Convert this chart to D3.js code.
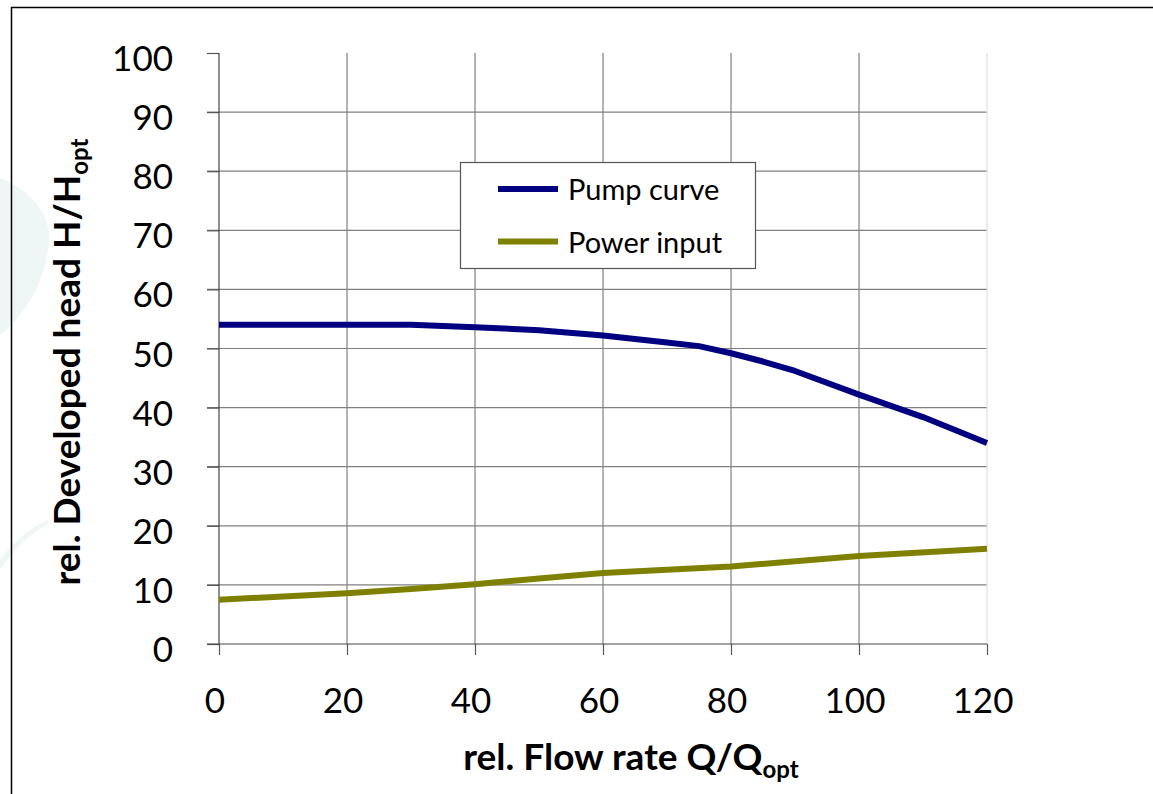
<!DOCTYPE html>
<html>
<head>
<meta charset="utf-8">
<script src="https://cdn.jsdelivr.net/npm/d3@7"></script>
<style>
  body { margin: 0; background: #fff; }
  svg { display: block; font-family: Lato, "Open Sans", sans-serif; }
</style>
</head>
<body>
<div id="chart"></div>
<script>
// 数据
var xTicks = [0, 20, 40, 60, 80, 100, 120];
var yTicks = [0, 10, 20, 30, 40, 50, 60, 70, 80, 90, 100];
var pumpQ = [0, 10, 20, 30, 40, 50, 60, 70, 75, 80, 85, 90, 100, 110, 120];
var pumpH = [54, 54, 54, 54, 53.6, 53.1, 52.2, 51, 50.4, 49.2, 47.8, 46.2, 42.2, 38.4, 34];
var powerQ = [0, 20, 30, 40, 50, 60, 80, 100, 120];
var powerP = [7.5, 8.6, 9.3, 10.1, 11.1, 12, 13.1, 14.9, 16.1];
var seriesNames = ["Pump curve", "Power input"];
var seriesColors = ["#000080", "#808000"];

var W = 1153, H = 794;
//绘图区边界
var pLeft = 219, pRight = 987, pTop = 53, pBottom = 644;

var svg = d3.select("#chart").append("svg").attr("width", W).attr("height", H);

// 背景装饰
svg.append("path")
    .attr("d", "M0,178 C30,190 55,215 48,250 C42,290 20,320 0,335 Z")
    .attr("fill", "#e3f1ee").attr("opacity", 0.6);
svg.append("path")
    .attr("d", "M0,560 C15,540 30,528 48,520 L48,524 C30,534 14,548 0,570 Z")
    .attr("fill", "#e3f1ee").attr("opacity", 0.6);

// 外框
svg.append("path").attr("d", "M11.5," + H + " L11.5,7.5 L" + W + ",7.5")
    .attr("fill", "none").attr("stroke", "#000").attr("stroke-width", 1.5);

var x = d3.scaleLinear().domain([0, 120]).range([pLeft, pRight]);
var y = d3.scaleLinear().domain([0, 100]).range([pBottom, pTop]);

// 网格
svg.append("g").selectAll("line").data(yTicks.filter(function (d) { return d > 0 && d < 100; }))
    .enter().append("line")
    .attr("x1", pLeft - 12).attr("x2", pRight)
    .attr("y1", function (d) { return y(d); }).attr("y2", function (d) { return y(d); })
    .attr("stroke", "#808080").attr("stroke-width", 1.2);

svg.append("g").selectAll("line").data(xTicks.filter(function (d) { return d > 0; }))
    .enter().append("line")
    .attr("x1", function (d) { return x(d); }).attr("x2", function (d) { return x(d); })
    .attr("y1", pTop).attr("y2", pBottom)
    .attr("stroke", function (d) { return d == 120 ? "#e0e0e0" : "#808080"; })
    .attr("stroke-width", 1.2);

// 坐标轴
var yAxis = svg.append("g").attr("transform", "translate(" + pLeft + ",0)")
    .call(d3.axisLeft(y).tickValues(yTicks).tickSize(12).tickFormat(""));
yAxis.select(".domain").remove();
yAxis.selectAll(".tick line").attr("stroke", "#555").attr("stroke-width", 1.2);
svg.append("line").attr("x1", pLeft).attr("x2", pLeft).attr("y1", pTop).attr("y2", pBottom)
    .attr("stroke", "#444").attr("stroke-width", 1.2);

var xAxis = svg.append("g").attr("transform", "translate(0," + pBottom + ")")
    .call(d3.axisBottom(x).tickValues(xTicks).tickSize(11).tickFormat(""));
xAxis.select(".domain").remove();
xAxis.selectAll(".tick line").attr("stroke", "#555").attr("stroke-width", 1.2);
svg.append("line").attr("x1", pLeft - 12).attr("x2", pRight).attr("y1", pBottom).attr("y2", pBottom)
    .attr("stroke", "#444").attr("stroke-width", 1.2);

// 刻度文字
svg.append("g").selectAll("text").data(yTicks).enter().append("text")
    .attr("x", 173).attr("y", function (d) { return y(d) + 18; })
    .attr("text-anchor", "end").attr("font-size", 35).attr("fill", "#000")
    .text(function (d) { return d; });

svg.append("g").selectAll("text").data(xTicks).enter().append("text")
    .attr("x", function (d) { return x(d) - 4; }).attr("y", 713)
    .attr("text-anchor", "middle").attr("font-size", 35).attr("fill", "#000")
    .text(function (d) { return d; });

// 轴标题
var xt = svg.append("text").attr("x", 631).attr("y", 770)
    .attr("text-anchor", "middle").attr("font-size", 37).attr("font-weight", "bold");
xt.append("tspan").text("rel. Flow rate Q/Q");
xt.append("tspan").attr("font-size", 24).attr("dy", 8).text("opt");

var yt = svg.append("text").attr("transform", "translate(80,362)rotate(-90)")
    .attr("text-anchor", "middle").attr("font-size", 37).attr("font-weight", "bold");
yt.append("tspan").text("rel. Developed head H/H");
yt.append("tspan").attr("font-size", 24).attr("dy", 8).text("opt");

// 曲线
var line = d3.line().x(function (d) { return x(d[0]); }).y(function (d) { return y(d[1]); });
var series = [d3.zip(pumpQ, pumpH), d3.zip(powerQ, powerP)];
svg.append("g").selectAll("path").data(series).enter().append("path")
    .attr("d", line)
    .attr("fill", "none")
    .attr("stroke", function (d, i) { return seriesColors[i]; })
    .attr("stroke-width", 6)
    .attr("stroke-linejoin", "round");

// 图例
var lg = svg.append("g");
lg.append("rect").attr("x", 460.5).attr("y", 162.5).attr("width", 295).attr("height", 106)
    .attr("fill", "#fff").attr("stroke", "#555").attr("stroke-width", 1.2);
var items = lg.selectAll("g.item").data(seriesNames).enter().append("g").attr("class", "item")
    .attr("transform", function (d, i) { return "translate(0," + (189 + i * 52.5) + ")"; });
items.append("line").attr("x1", 498).attr("x2", 558).attr("y1", 0).attr("y2", 0)
    .attr("stroke", function (d, i) { return seriesColors[i]; }).attr("stroke-width", 6);
items.append("text").attr("x", 568).attr("y", 11).attr("font-size", 29).text(function (d) { return d; });
</script>
</body>
</html>
